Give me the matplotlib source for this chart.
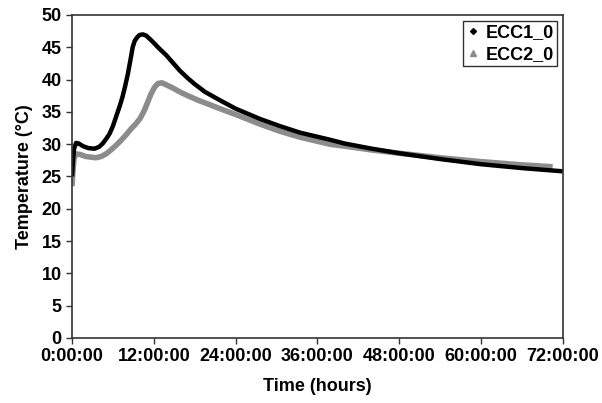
import matplotlib
matplotlib.use("Agg")
import matplotlib.pyplot as plt
from matplotlib.lines import Line2D
from matplotlib.ticker import FuncFormatter

plt.rcParams['font.family'] = ['Liberation Sans', 'DejaVu Sans']
plt.rcParams['font.weight'] = 'bold'

# time in hours, temperature in deg C
t_ecc1 = [0, 0.15, 0.3, 0.6, 1.0, 1.6, 2.4, 3.3, 4.0, 4.5, 5.0, 5.5, 6.0,
          6.45, 7.0, 7.4, 7.8, 8.2, 8.6, 8.9, 9.2, 9.6, 9.9, 10.4, 10.9,
          11.8, 12.8, 13.8, 14.8, 15.8, 17, 18, 19.5, 21.7, 24, 27.6, 30.5,
          33.4, 37.8, 40, 44, 48, 54, 60, 66, 72]
temp_ecc1 = [25.0, 27.5, 29.3, 30.2, 30.1, 29.7, 29.4, 29.3, 29.6, 30.1, 30.8,
             31.6, 32.8, 34.2, 35.9, 37.3, 39.0, 40.9, 43.2, 45.0, 46.0, 46.6,
             46.9, 47.0, 46.8, 45.9, 44.8, 43.8, 42.6, 41.4, 40.2, 39.3, 38.1,
             36.8, 35.5, 33.9, 32.8, 31.8, 30.7, 30.1, 29.3, 28.6, 27.7, 26.9,
             26.3, 25.8]

t_ecc2 = [0, 0.15, 0.3, 0.6, 1.2, 2, 3.5, 4.3, 5, 5.7, 6.45, 7.2, 7.9, 8.6,
          9.4, 10, 10.6, 11.1, 11.6, 12.1, 12.6, 13.2, 13.8, 14.8, 15.8, 17,
          18.5, 20, 21.7, 24, 27.6, 30.5, 33.4, 37.8, 40, 44, 48, 54, 60, 66,
          70.5]
temp_ecc2 = [23.5, 26.0, 27.8, 28.5, 28.4, 28.1, 27.9, 28.1, 28.5, 29.1, 29.8,
             30.6, 31.4, 32.3, 33.2, 34.0, 35.2, 36.5, 37.8, 38.8, 39.4, 39.5,
             39.2, 38.7, 38.1, 37.5, 36.8, 36.2, 35.5, 34.6, 33.1, 32.0, 31.1,
             30.0, 29.7, 29.1, 28.6, 27.9, 27.3, 26.8, 26.5]

series_names = ['ECC1_0', 'ECC2_0']

fig = plt.figure(figsize=(6.02, 4.03), dpi=100)
ax = fig.add_axes([0.1196, 0.1613, 0.8154, 0.8015])

ax.plot(t_ecc2, temp_ecc2, color='#8c8c8c', lw=4.0, solid_capstyle='butt',
        solid_joinstyle='round')
ax.plot(t_ecc1, temp_ecc1, color='black', lw=3.2, solid_capstyle='butt',
        solid_joinstyle='round')

ax.set_xlim(0, 72)
ax.set_ylim(0, 50)
ax.set_xticks(range(0, 73, 12))
ax.xaxis.set_major_formatter(FuncFormatter(lambda v, p: '%d:00:00' % v))
ax.set_yticks(range(0, 51, 5))
ax.tick_params(direction='out', length=4, width=1, labelsize=13, color='#333333')
for lbl in ax.get_xticklabels() + ax.get_yticklabels():
    lbl.set_fontweight('bold')
for s in ax.spines.values():
    s.set_color('#333333')
    s.set_linewidth(1.2)

ax.set_xlabel('Time (hours)', fontsize=13, fontweight='bold', labelpad=9)
ax.set_ylabel('Temperature (°C)', fontsize=13, fontweight='bold', labelpad=6)

handles = [Line2D([], [], marker='D', color='black', ls='none', markersize=3),
           Line2D([], [], marker='^', color='#8c8c8c', ls='none', markersize=4)]
leg = ax.legend(handles, series_names, loc='upper right',
                prop={'weight': 'bold', 'size': 13}, fancybox=False,
                edgecolor='#333333', framealpha=1, borderpad=0.15,
                handlelength=0.8, handletextpad=0.3, labelspacing=0.3,
                borderaxespad=0.35)
leg.get_frame().set_linewidth(1.0)

fig.savefig('out.png', dpi=100)
